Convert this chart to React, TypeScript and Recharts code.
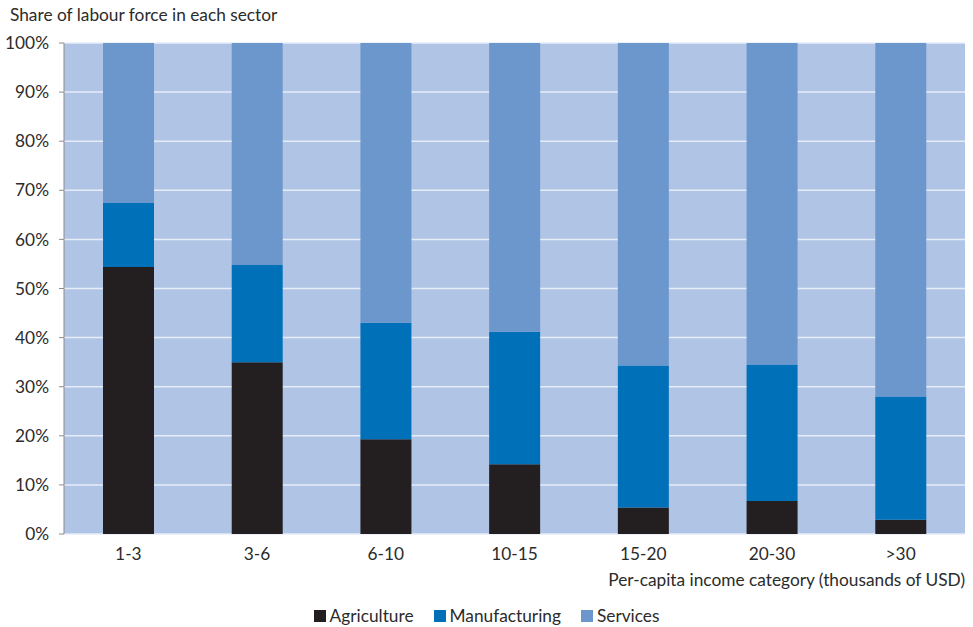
import { Bar, BarChart, CartesianGrid, XAxis, YAxis } from "recharts";

const categories = ["1-3", "3-6", "6-10", "10-15", "15-20", "20-30", ">30"];
const agriculture = [54.4, 35.0, 19.3, 14.2, 5.4, 6.7, 2.9];
const manufacturing = [13.0, 19.8, 23.7, 27.0, 28.9, 27.8, 25.1];
const services = [32.6, 45.2, 57.0, 58.8, 65.7, 65.5, 72.0];
const yTicks = [0, 10, 20, 30, 40, 50, 60, 70, 80, 90, 100];
const boundaryTicks = [0, 1, 2, 3, 4, 5, 6, 7];

const FONT = "Lato, 'Open Sans', sans-serif";
const FS = 17.3;
const TEXT = "#2b2b2b";
const AXIS_LINE = "#8c8c8c";

const SERIES = [
  { key: "Agriculture", color: "#231f20" },
  { key: "Manufacturing", color: "#0070b8" },
  { key: "Services", color: "#6b97cd" },
];

const data = categories.map((c, i) => ({
  cat: c,
  idx: i + 0.5,
  Agriculture: agriculture[i],
  Manufacturing: manufacturing[i],
  Services: services[i],
}));

function LegendBox() {
  return (
    <div
      style={{
        position: "absolute", left: 0, top: 605, width: 973,
        display: "flex", justifyContent: "center", gap: 20,
        fontFamily: FONT, fontSize: FS, color: TEXT,
      }}
    >
      {SERIES.map((s) => (
        <span key={s.key} style={{ display: "flex", alignItems: "center" }}>
          <span style={{ width: 12, height: 12, background: s.color, marginRight: 4, display: "inline-block" }} />
          {s.key}
        </span>
      ))}
    </div>
  );
}

export default function App() {
  return (
    <div style={{ position: "absolute", left: 0, top: 0, width: 973, height: 627, background: "#fff", fontFamily: FONT }}>
      <BarChart
        width={973}
        height={627}
        data={data}
        margin={{ top: 43, right: 8, bottom: 63, left: 0 }}
        barSize={51}
      >
        <CartesianGrid vertical={false} fill="#b0c4e6" stroke="#e6edf8" strokeWidth={1.5} fillOpacity={1} />
        {/* numeric axis only used for the tick marks between categories */}
        <XAxis
          xAxisId="edge"
          type="number"
          dataKey="idx"
          domain={[0, 7]}
          ticks={boundaryTicks}
          tick={false}
          tickSize={8}
          height={0}
          stroke={AXIS_LINE}
        />
        <XAxis
          dataKey="cat"
          xAxisId="cat"
          height={30}
          tickLine={false}
          axisLine={false}
          tick={{ fill: TEXT, fontSize: FS, fontFamily: FONT }}
          tickMargin={8}
        />
        <YAxis
          domain={[0, 100]}
          ticks={yTicks}
          width={64}
          tickSize={5}
          tickMargin={10}
          stroke={AXIS_LINE}
          tickFormatter={(v) => `${v}%`}
          tick={{ fill: TEXT, fontSize: FS, fontFamily: FONT }}
          interval={0}
        />
        {SERIES.map((s) => (
          <Bar key={s.key} dataKey={s.key} xAxisId="cat" stackId="a" fill={s.color} isAnimationActive={false} />
        ))}
      </BarChart>
      <div style={{ position: "absolute", left: 10, top: 4, fontSize: FS, color: TEXT }}>
        Share of labour force in each sector
      </div>
      <div style={{ position: "absolute", right: 8, top: 569, fontSize: FS, color: TEXT }}>
        Per-capita income category (thousands of USD)
      </div>
      <LegendBox />
    </div>
  );
}
